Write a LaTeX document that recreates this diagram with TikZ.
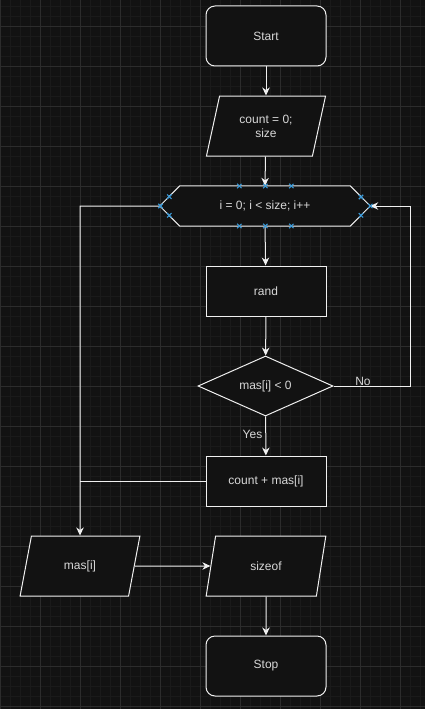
\documentclass[tikz,border=0pt]{standalone}
\usepackage{fontspec}
\setmainfont{Liberation Sans}
\usetikzlibrary{shapes.geometric,arrows.meta}
\definecolor{bg}{HTML}{121212}
\definecolor{gridminor}{HTML}{1A1A1A}
\definecolor{gridmajor}{HTML}{2C2C2C}
\definecolor{ln}{HTML}{F0F0F0}
\definecolor{txt}{HTML}{D8D8D8}
\definecolor{mark}{HTML}{3A9AD9}
\tikzset{
  base/.style={draw=ln, line width=1pt, fill=bg, text=txt, font=\fontsize{12}{14}\selectfont, align=center, inner sep=0pt},
  terminal/.style={base, rectangle, rounded corners=9pt, minimum width=120pt, minimum height=60pt},
  process/.style={base, rectangle, minimum width=120pt, minimum height=50pt},
  io/.style={base, trapezium, trapezium left angle=71.57, trapezium right angle=108.43, trapezium stretches=true, minimum width=120pt, minimum height=60pt},
  decision/.style={base, diamond, aspect=2.25, minimum width=135pt, minimum height=60pt},
  conn/.style={draw=ln, line width=1pt, -{Stealth[length=8pt,width=7.5pt,inset=2.5pt]}},
  plain/.style={draw=ln, line width=1pt},
  lbl/.style={text=txt, font=\fontsize{12}{14}\selectfont, inner sep=0pt},
  xm/.style={draw=mark, line width=1.1pt}
}
\newcommand{\xmark}[2]{\draw[xm] (#1-2.2,#2-2.2) -- (#1+2.2,#2+2.2) (#1-2.2,#2+2.2) -- (#1+2.2,#2-2.2);}
\begin{document}
\begin{tikzpicture}[x=1pt,y=-1pt]
\fill[bg] (0,0) rectangle (425,709);
\useasboundingbox (0,0) rectangle (425,709);
% grid
\foreach \x in {0,10,...,420} \draw[gridminor, line width=0.6pt] (\x,0) -- (\x,709);
\foreach \y in {6,16,...,706} \draw[gridminor, line width=0.6pt] (0,\y) -- (425,\y);
\foreach \x in {0,40,...,420} \draw[gridmajor, line width=0.8pt] (\x,0) -- (\x,709);
\foreach \y in {26,66,...,706} \draw[gridmajor, line width=0.8pt] (0,\y) -- (425,\y);

% nodes
\node[terminal] (start) at (266,36) {Start};
\node[io] (init) at (266,126) {count = 0;\\size};
\node[rectangle, minimum width=210pt, minimum height=40pt, inner sep=0pt] (loop) at (265,206) {};
\draw[plain, fill=bg] (loop.west) -- ([xshift=20pt]loop.north west) -- ([xshift=-20pt]loop.north east) -- (loop.east) -- ([xshift=-20pt]loop.south east) -- ([xshift=20pt]loop.south west) -- cycle;
\node[lbl] (looptext) at (loop.center) {i = 0; i < size; i++};
\node[process] (rand) at (266,291) {rand};
\node[decision] (cond) at (265.5,386) {mas[i] < 0};
\node[process] (sum) at (266,481) {count + mas[i]};
\node[io] (mas) at (80,566) {mas[i]};
\node[io] (size) at (266,566) {sizeof};
\node[terminal] (stop) at (266,666) {Stop};

\coordinate (rtop) at (410,206);
\coordinate (rbot) at (410,386);
\coordinate (ltop) at (80,206);
\coordinate (lmid) at (80,481);

% connectors
\draw[conn] (start) -- (init);
\draw[conn] (init) -- (loop.north);
\draw[conn] (loop.south) -- (rand);
\draw[conn] (rand) -- (cond);
\draw[conn] (cond) -- (sum) node[lbl, pos=0.45, left=3pt] (yes) {Yes};
\draw[conn] (cond.east) -- (rbot) -- (rtop) -- (loop.east);
\node[lbl] (no) at (363,381) {No};
\draw[conn] (loop.west) -- (ltop) -- (mas.north);
\draw[plain] (sum.west) -- (lmid);
\draw[conn] (mas) -- (size);
\draw[conn] (size) -- (stop);

% connection point markers
\xmark{239.3}{186}\xmark{265.3}{186}\xmark{291.3}{186}
\xmark{239.3}{226}\xmark{265.3}{226}\xmark{291.3}{226}
\xmark{160.5}{206}\xmark{169.3}{196.7}\xmark{169.3}{215.3}
\xmark{370.3}{206}\xmark{361}{197}\xmark{361}{215.3}
\end{tikzpicture}
\end{document}
